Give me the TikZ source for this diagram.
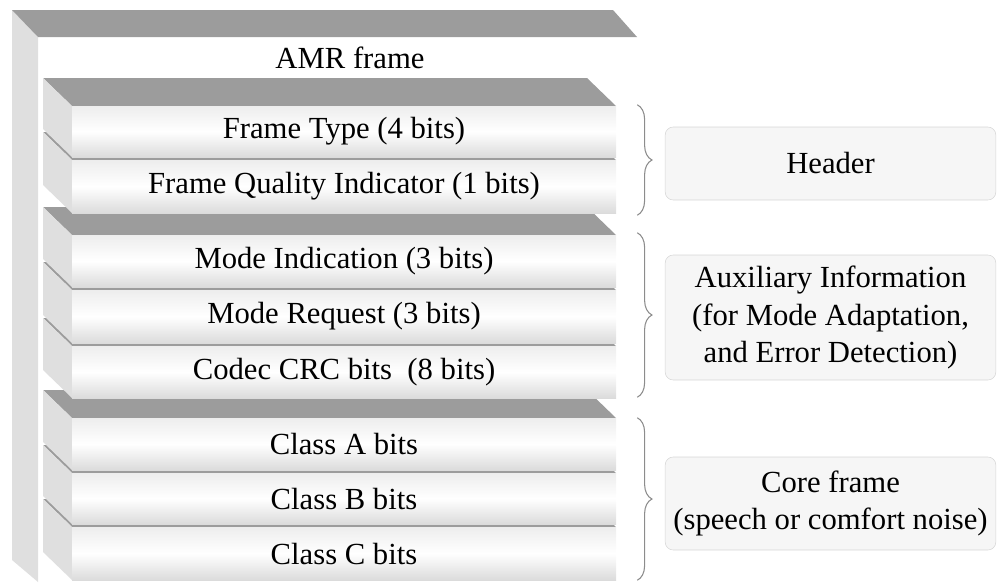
\documentclass[tikz,border=0pt]{standalone}
\usepackage{fontspec}
\setmainfont{Liberation Serif}
\usetikzlibrary{decorations.pathreplacing}
\definecolor{lidgray}{HTML}{9C9C9C}
\definecolor{sidegray}{HTML}{DFDFDF}
\definecolor{notefill}{HTML}{F6F6F6}
\definecolor{noteline}{HTML}{D6D6D6}
\definecolor{bracegray}{HTML}{8C8C8C}

\begin{document}
\begin{tikzpicture}[x=0.75pt,y=-0.75pt,every node/.style={font=\fontsize{23}{28}\selectfont},
  lid/.style={fill=lidgray},side/.style={fill=sidegray},
  front/.style={inner sep=0pt,minimum width=408pt,top color=gray!14,bottom color=gray!28,middle color=white},
  note/.style={draw=noteline,fill=notefill,rounded corners=6pt,align=center,minimum width=248pt},
  brace/.style={draw=bracegray,line width=0.8pt,decorate,decoration={brace,amplitude=11pt}}]
\useasboundingbox (0,0) rectangle (998,582);
% outer frame
\fill[side] (12,10) -- (38,37) -- (38,582) -- (12,560) -- cycle;
\fill[lid] (12,10) -- (613,10) -- (637,37) -- (38,37) -- cycle;
\node (amr) at (350,58) {AMR frame};
% slabs, bottom one first
\foreach \ytop/\ybot/\nm/\txt in {527/580/cc/Class C bits,473/524/cb/Class B bits,418/470/ca/Class A bits,
  346/398/crc/Codec CRC bits~ (8 bits),290/343/mr/Mode Request (3 bits),235/287/mi/Mode Indication (3 bits),
  160/213/fqi/Frame Quality Indicator (1 bits),106/157/ft/Frame Type (4 bits)}{
  \fill[lid] (72,\ytop) -- ++(-29,-28) -- (587,\ytop-28) -- (616,\ytop) -- cycle;
  \fill[side] (72,\ytop) -- ++(-29,-28) -- (43,\ybot-28) -- (72,\ybot) -- cycle;
  \node[front,minimum height={(\ybot-\ytop)*0.75pt}] (\nm) at (344,{(\ytop+\ybot)/2}) {\txt};
}
% groups
\node[note,minimum height=54.75pt] (hdr) at (830.5,163.5) {Header};
\node[note,minimum height=93.75pt] (aux) at (830.5,317.5) {Auxiliary Information\\(for Mode Adaptation,\\and Error Detection)};
\node[note,minimum height=69.75pt] (core) at (830.5,503.5) {Core frame\\(speech or comfort noise)};
\draw[brace] ([shift={(21,-1)}]ft.north east) -- ([shift={(21,2)}]fqi.south east);
\draw[brace] ([shift={(21,-2)}]mi.north east) -- ([shift={(21,-1)}]crc.south east);
\draw[brace] ([shift={(21,0)}]ca.north east) -- ([shift={(21,0)}]cc.south east);
\end{tikzpicture}
\end{document}
